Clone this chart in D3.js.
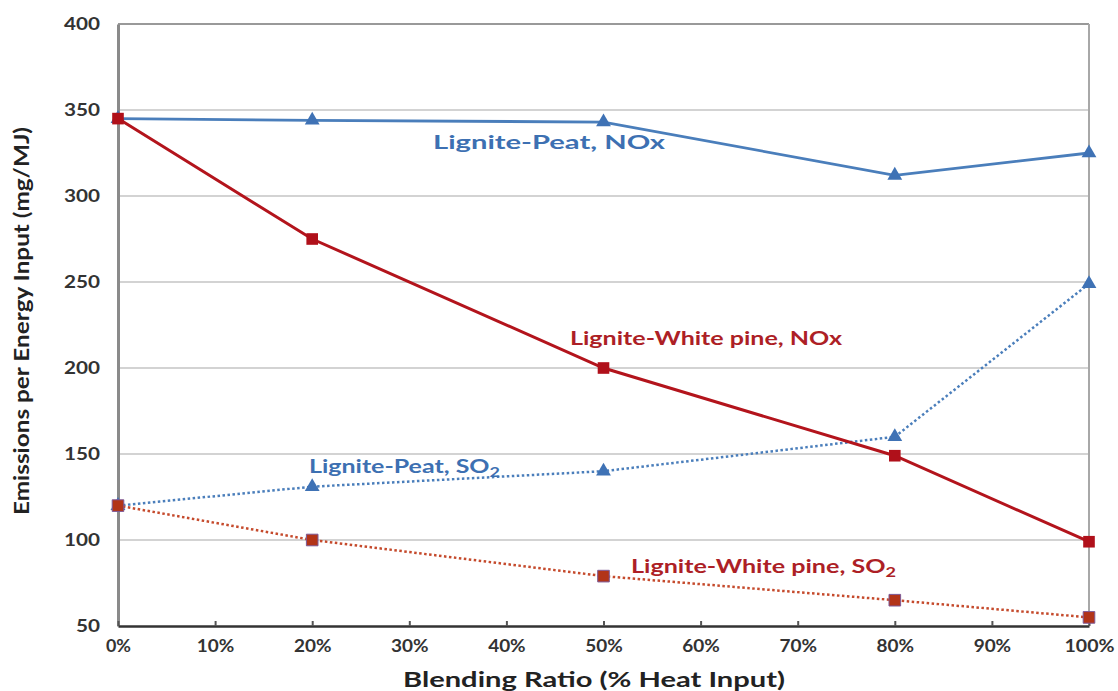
<!DOCTYPE html>
<html><head><meta charset="utf-8">
<script src="https://cdn.jsdelivr.net/npm/d3@7"></script>
<style>
html,body{margin:0;padding:0;background:#fff;}
svg{display:block;}
text{font-family:Lato,"Open Sans",sans-serif;font-weight:bold;}
</style></head>
<body><svg id="chart" width="1118" height="691"></svg>
<script>
const blendRatios = [0, 20, 50, 80, 100];
const xTicks = [0, 10, 20, 30, 40, 50, 60, 70, 80, 90, 100];
const yTicks = [50, 100, 150, 200, 250, 300, 350, 400];
const peatNOx = [345, 344, 343, 312, 325];
const pineNOx = [345, 275, 200, 149, 99];
const peatSO2 = [120, 131, 140, 160, 249];
const pineSO2 = [120, 100, 79, 65, 55];
const xTitle = "Blending Ratio (% Heat Input)";
const yTitle = "Emissions per Energy Input (mg/MJ)";

const svg = d3.select("#chart");
const L = 118, R = 1089, T = 24, B = 626;
const x = d3.scaleLinear().domain([0, 100]).range([L, R]);
const y = d3.scaleLinear().domain([50, 400]).range([B, T]);

// gridlines
svg.append("g").selectAll("line").data(yTicks.filter(d => d > 50)).join("line")
  .attr("x1", L).attr("x2", R).attr("y1", d => y(d)).attr("y2", d => y(d))
  .attr("stroke", d => d === 400 ? "#999" : "#c4c4c4").attr("stroke-width", d => d === 400 ? 2 : 1.5);
// right border
svg.append("line").attr("x1", R).attr("x2", R).attr("y1", T).attr("y2", B)
  .attr("stroke", "#a8a8a8").attr("stroke-width", 2);

// y axis
const yAxis = svg.append("g").attr("transform", `translate(${L},0)`)
  .call(d3.axisLeft(y).tickValues(yTicks).tickSize(0).tickPadding(18));
yAxis.select(".domain").attr("stroke", "#8a8a8a").attr("stroke-width", 3);
yAxis.selectAll("text").attr("font-size", 16.5).attr("fill", "#333")
  .attr("textLength", d => String(d).length * 12).attr("lengthAdjust", "spacingAndGlyphs");

// x axis
const xAxis = svg.append("g").attr("transform", `translate(0,${B})`)
  .call(d3.axisBottom(x).tickValues(xTicks).tickSizeInner(-5).tickSizeOuter(0).tickPadding(14)
    .tickFormat(d => d + "%"));
xAxis.select(".domain").attr("stroke", "#333").attr("stroke-width", 2.5);
xAxis.selectAll(".tick line").attr("stroke", "#555").attr("stroke-width", 2);
xAxis.selectAll("text").attr("font-size", 16.5).attr("fill", "#333")
  .attr("textLength", d => (String(d).length + 1) * 12.5).attr("lengthAdjust", "spacingAndGlyphs");

// titles
svg.append("text").attr("x", 594).attr("y", 680).attr("dy", "0.35em")
  .attr("text-anchor", "middle").attr("font-size", 20).attr("fill", "#222")
  .attr("textLength", 382).attr("lengthAdjust", "spacingAndGlyphs").text(xTitle);
svg.append("text").attr("transform", "translate(22,321) rotate(-90)").attr("dy", "0.35em")
  .attr("text-anchor", "middle").attr("font-size", 20).attr("fill", "#222")
  .attr("textLength", 388).attr("lengthAdjust", "spacingAndGlyphs").text(yTitle);

const series = [
  {vals: peatSO2, color: "#4a7ebb", dash: "2.5,2.5", width: 2.5, marker: "triangle", fill: "#3f72b5", mstroke: "none"},
  {vals: pineSO2, color: "#c54a2c", dash: "2.5,2.5", width: 2.5, marker: "square", fill: "#b23418", mstroke: "#7d5a98"},
  {vals: peatNOx, color: "#4a7ebb", dash: null, width: 2.8, marker: "triangle", fill: "#3f72b5", mstroke: "none"},
  {vals: pineNOx, color: "#b3141c", dash: null, width: 3, marker: "square", fill: "#b0101a", mstroke: "none"}
];
const line = d3.line().x(d => x(d[0])).y(d => y(d[1]));
series.forEach(s => {
  const pts = blendRatios.map((r, i) => [r, s.vals[i]]);
  svg.append("path").datum(pts).attr("d", line).attr("fill", "none")
    .attr("stroke", s.color).attr("stroke-width", s.width)
    .attr("stroke-dasharray", s.dash);
  const sym = d3.symbol().type(s.marker === "square" ? d3.symbolSquare : d3.symbolTriangle)
    .size(s.marker === "square" ? 135 : 95);
  svg.append("g").selectAll("path").data(pts).join("path")
    .attr("transform", d => `translate(${x(d[0])},${y(d[1])})`)
    .attr("d", sym).attr("fill", s.fill)
    .attr("stroke", s.mstroke).attr("stroke-width", 1);
});

// labels
function label(xp, yp, w, color, main, sub) {
  const t = svg.append("text").attr("x", xp).attr("y", yp).attr("dy", "0.35em")
    .attr("font-size", 18).attr("fill", color)
    .attr("textLength", w).attr("lengthAdjust", "spacingAndGlyphs");
  t.append("tspan").text(main);
  if (sub) t.append("tspan").attr("font-size", 13).attr("dy", "0.3em").text(sub);
}
label(433, 143, 232, "#3d70b2", "Lignite-Peat, NOx");
label(570, 339, 272, "#ad1f26", "Lignite-White pine, NOx");
label(309, 467, 191, "#3d70b2", "Lignite-Peat, SO", "2");
label(631, 567, 265, "#ad1f26", "Lignite-White pine, SO", "2");
</script></body></html>
